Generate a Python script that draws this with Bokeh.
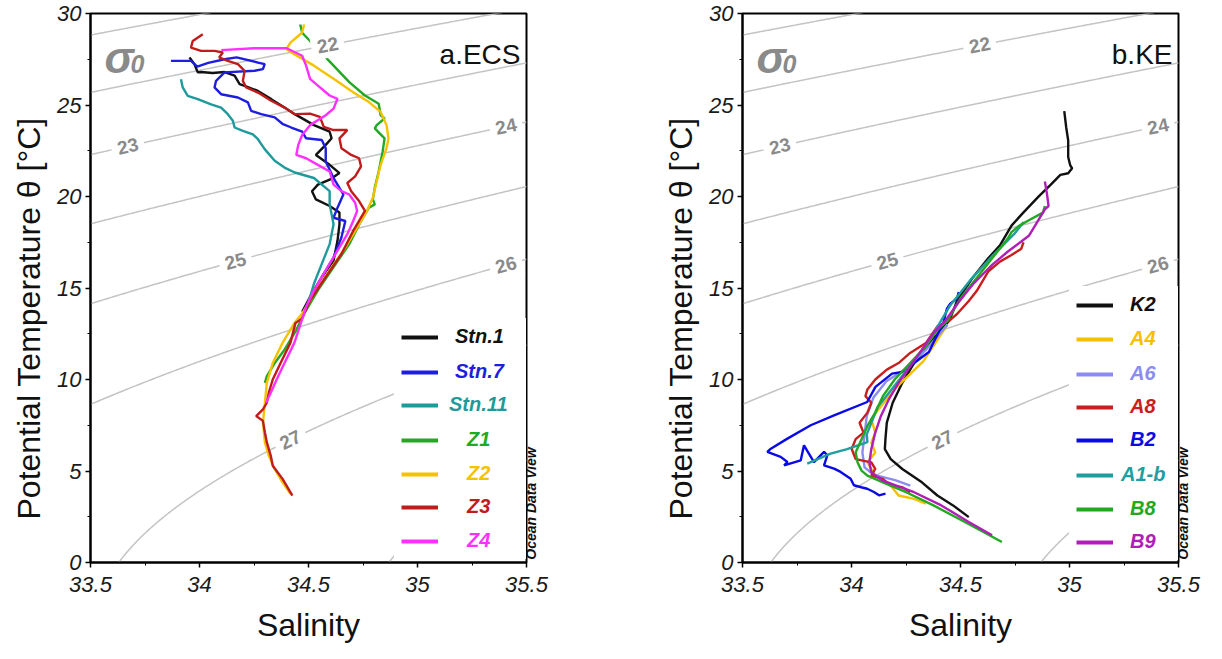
import numpy as np
from bokeh.plotting import figure
from bokeh.models import (Legend, LegendItem, Label, Range1d, SingleIntervalTicker, NumeralTickFormatter,
                          LinearAxis, FixedTicker, Title)
from bokeh.layouts import row
from bokeh.embed import file_html
from bokeh.resources import INLINE

# ---------------- data (salinity, potential temperature) ----------------
# Panel a: East China Sea
ECS_NAMES = ["Stn.1", "Stn.7", "Stn.11", "Z1", "Z2", "Z3", "Z4"]
ECS_COLORS = ["#111111", "#1e1ee0", "#1f9a9a", "#22a822", "#f6c200", "#c01c1c", "#ff30ff"]

STN1_S = [33.954, 33.977, 33.992, 34.007, 34.06, 34.115, 34.161, 34.184, 34.207, 34.268, 34.329, 34.39, 34.437,
          34.525, 34.561, 34.597, 34.606, 34.579, 34.534, 34.597, 34.642, 34.597, 34.543, 34.516, 34.534, 34.597,
          34.642, 34.642, 34.633, 34.615, 34.561, 34.507, 34.471]
STN1_T = [27.6, 27.23, 26.78, 26.8, 26.75, 26.8, 26.6, 26.14, 26.05, 25.77, 25.32, 24.86, 24.5,
          23.9, 23.72, 23.54, 23.18, 22.82, 22.27, 21.73, 21.28, 20.92, 20.65, 20.29, 19.84, 19.48,
          19.12, 18.48, 17.58, 16.5, 15.6, 14.51, 13.7]

STN7_S = [33.869, 33.961, 33.99, 34.04, 34.115, 34.17, 34.268, 34.299, 34.291, 34.253, 34.115, 34.076, 34.069,
          34.099, 34.176, 34.222, 34.237, 34.283, 34.345, 34.383, 34.421, 34.471, 34.489, 34.561, 34.579, 34.579,
          34.615, 34.66, 34.633, 34.615, 34.669, 34.651, 34.615, 34.561]
STN7_T = [27.41, 27.41, 27.1, 27.3, 27.5, 27.6, 27.32, 27.23, 26.96, 26.87, 26.78, 26.32, 25.96,
          25.59, 25.41, 25.14, 24.68, 24.5, 24.32, 23.95, 23.77, 23.54, 23.18, 23.09, 22.64, 21.91,
          21.01, 20.11, 19.39, 18.84, 18.66, 17.76, 16.68, 15.6]

STN11_S = [33.915, 33.923, 33.946, 33.992, 34.053, 34.099, 34.13, 34.153, 34.161, 34.199, 34.245, 34.268, 34.299,
           34.345, 34.39, 34.437, 34.525, 34.597, 34.597, 34.615, 34.597, 34.561, 34.525, 34.489]
STN11_T = [26.41, 25.96, 25.5, 25.32, 25.04, 24.86, 24.5, 24.14, 23.77, 23.59, 23.4, 23.13, 22.59,
           21.95, 21.58, 21.31, 21.01, 20.29, 19.57, 18.48, 17.4, 16.32, 15.23, 13.79]

Z1_S = [34.462, 34.471, 34.543, 34.615, 34.687, 34.759, 34.822, 34.831, 34.849, 34.813, 34.804, 34.849, 34.84,
        34.822, 34.804, 34.795, 34.804, 34.777, 34.741, 34.687, 34.615, 34.543, 34.48, 34.444, 34.39, 34.345,
        34.309, 34.3]
Z1_T = [29.4, 28.95, 28.05, 27.15, 26.25, 25.52, 25.07, 24.44, 24.26, 23.9, 23.72, 23.18, 22.45,
        21.37, 20.47, 19.84, 19.57, 19.39, 18.66, 17.4, 16.14, 14.87, 13.6, 12.7, 11.63, 10.9,
        10.18, 9.82]

Z2_S = [34.48, 34.47, 34.417, 34.399, 34.435, 34.525, 34.615, 34.705, 34.777, 34.831, 34.858, 34.867, 34.858,
        34.831, 34.813, 34.795, 34.768, 34.723, 34.669, 34.597, 34.525, 34.471, 34.435, 34.381, 34.336, 34.309,
        34.3, 34.291, 34.3, 34.318, 34.345, 34.381, 34.417]
Z2_T = [29.4, 28.95, 28.41, 28.05, 27.78, 27.15, 26.43, 25.7, 25.16, 24.62, 23.9, 23.18, 22.64,
        21.73, 20.83, 19.93, 19.21, 18.3, 17.22, 15.96, 14.69, 13.6, 13.08, 12.0, 10.9, 9.82,
        8.73, 7.64, 6.56, 5.83, 5.1, 4.38, 3.75]

Z3_S = [34.015, 33.969, 33.961, 34.007, 34.069, 34.107, 34.09, 34.13, 34.176, 34.207, 34.199, 34.214, 34.268,
        34.329, 34.39, 34.437, 34.507, 34.552, 34.57, 34.615, 34.678, 34.642, 34.651, 34.696, 34.732, 34.741,
        34.714, 34.678, 34.696, 34.732, 34.759, 34.705, 34.651, 34.579, 34.507, 34.471, 34.44, 34.417, 34.372,
        34.336, 34.318, 34.309, 34.291, 34.26, 34.291, 34.30, 34.309, 34.327, 34.336, 34.381, 34.426]
Z3_T = [28.87, 28.5, 28.14, 27.96, 27.96, 27.87, 27.6, 27.41, 27.23, 26.87, 26.32, 25.96, 25.68,
        25.23, 24.86, 24.5, 24.53, 24.35, 23.81, 23.63, 23.63, 23.18, 22.64, 22.27, 22.09, 21.64,
        21.1, 20.74, 20.29, 19.75, 19.21, 18.12, 16.86, 15.6, 14.33, 13.34, 13.08, 12.0, 10.9,
        10.0, 9.28, 8.73, 8.37, 8.0, 7.74, 7.1, 6.56, 5.83, 5.29, 4.57, 3.66]

Z4_S = [34.10, 34.25, 34.40, 34.471, 34.489, 34.507, 34.543, 34.597, 34.633, 34.615, 34.579, 34.507, 34.471,
        34.453, 34.444, 34.489, 34.543, 34.597, 34.615, 34.651, 34.687, 34.714, 34.723, 34.705, 34.678, 34.633,
        34.579, 34.525, 34.489, 34.471, 34.435, 34.39, 34.354, 34.327, 34.305]
Z4_T = [28.0, 28.1, 28.1, 27.69, 27.15, 26.43, 26.06, 25.52, 25.34, 24.8, 24.44, 23.9, 23.36,
        22.82, 22.27, 22.09, 21.73, 21.37, 20.65, 20.29, 20.11, 19.66, 19.21, 18.66, 17.94, 17.04,
        15.96, 14.87, 13.97, 13.3, 12.0, 10.9, 10.0, 9.28, 8.73]

ECS_S = [STN1_S, STN7_S, STN11_S, Z1_S, Z2_S, Z3_S, Z4_S]
ECS_T = [STN1_T, STN7_T, STN11_T, Z1_T, Z2_T, Z3_T, Z4_T]

# Panel b: Kuroshio Extension
KE_NAMES = ["K2", "A4", "A6", "A8", "B2", "A1-b", "B8", "B9"]
KE_COLORS = ["#111111", "#f5c000", "#8c8cf0", "#c81e1e", "#0a0ae6", "#1e9e9e", "#22a822", "#b01eb8"]

K2_S = [34.976, 34.985, 34.994, 34.994, 35.003, 35.012, 34.994, 34.958, 34.913, 34.86, 34.788, 34.734, 34.681,
        34.627, 34.555, 34.484, 34.449, 34.359, 34.287, 34.233, 34.189, 34.162, 34.156, 34.153, 34.18, 34.233,
        34.323, 34.394, 34.466, 34.538]
K2_T = [24.67, 23.77, 23.06, 22.16, 21.72, 21.54, 21.27, 21.18, 20.64, 20.02, 19.12, 18.41, 17.33,
        16.62, 15.55, 14.29, 13.22, 11.99, 10.9, 9.82, 8.73, 7.64, 6.8, 6.2, 5.65, 5.11,
        4.38, 3.66, 3.12, 2.48]

A4_S = [34.44, 34.33, 34.2, 34.12, 34.091, 34.109, 34.091, 34.109, 34.073, 34.109, 34.18, 34.216, 34.287, 34.341]
A4_T = [13.0, 11.0, 9.5, 8.3, 7.83, 7.1, 6.56, 6.01, 5.47, 4.75, 4.2, 3.66, 3.48, 3.21]

A6_S = [34.44, 34.34, 34.24, 34.16, 34.1, 34.07, 34.06, 34.05, 34.06, 34.1, 34.2, 34.27]
A6_T = [13.0, 11.6, 10.5, 9.9, 9.0, 8.0, 7.0, 6.0, 5.2, 4.8, 4.5, 4.2]

A8_S = [34.789, 34.779, 34.734, 34.681, 34.627, 34.574, 34.538, 34.484, 34.449, 34.394, 34.341, 34.269, 34.216,
        34.162, 34.109, 34.073, 34.064, 34.091, 34.073, 34.037, 34.055, 34.019, 34.001, 34.019, 34.091, 34.109,
        34.091, 34.144, 34.18, 34.233, 34.269]
A8_T = [17.5, 17.15, 16.8, 16.44, 15.9, 14.83, 14.29, 13.58, 13.22, 12.9, 11.99, 11.45, 10.9,
        10.54, 10.0, 9.46, 9.09, 8.73, 8.19, 7.64, 7.1, 6.74, 6.2, 5.65, 5.47, 5.11,
        4.75, 4.57, 4.2, 4.11, 3.84]

B2_S = [34.492, 34.484, 34.453, 34.438, 34.43, 34.423, 34.37, 34.355, 34.232, 34.186, 34.11, 34.072, 33.92,
        33.813, 33.706, 33.63, 33.614, 33.675, 33.706, 33.691, 33.767, 33.782, 33.828, 33.874, 33.889, 33.874,
        33.92, 33.95, 33.996, 34.011, 34.049, 34.072, 34.103, 34.126, 34.156]
B2_T = [14.78, 14.42, 14.14, 13.87, 13.51, 13.14, 11.87, 11.5, 10.41, 10.32, 9.6, 8.77, 8.04,
        7.5, 6.77, 6.22, 6.04, 5.77, 5.49, 5.31, 5.58, 6.4, 5.49, 6.04, 5.86, 5.31,
        5.13, 4.95, 4.58, 4.22, 4.1, 4.03, 3.85, 3.67, 3.76]

A1B_S = [34.79, 34.75, 34.65, 34.55, 34.45, 34.35, 34.22, 34.12, 34.07, 34.073, 33.98, 33.904, 33.797]
A1B_T = [18.6, 18.0, 16.8, 15.5, 14.0, 12.0, 10.0, 8.5, 7.0, 6.58, 6.2, 5.95, 5.4]

B8_S = [34.887, 34.878, 34.824, 34.77, 34.734, 34.716, 34.645, 34.574, 34.502, 34.44, 34.394, 34.341, 34.269,
        34.198, 34.144, 34.109, 34.073, 34.046, 34.019, 34.028, 34.046, 34.073, 34.144, 34.251, 34.376, 34.52,
        34.69]
B8_T = [19.48, 19.12, 18.77, 18.41, 18.05, 17.69, 16.62, 15.55, 14.47, 13.22, 12.72, 11.81, 10.9,
        10.0, 9.09, 8.19, 7.46, 6.74, 6.01, 5.47, 5.02, 4.75, 4.38, 3.84, 3.12, 2.21,
        1.12]

B9_S = [34.887, 34.896, 34.904, 34.887, 34.815, 34.716, 34.645, 34.556, 34.484, 34.431, 34.376, 34.323, 34.269,
        34.216, 34.171, 34.135, 34.109, 34.091, 34.082, 34.091, 34.144, 34.287, 34.412, 34.538, 34.645]
B9_T = [20.82, 20.2, 19.48, 19.3, 17.87, 16.98, 16.26, 15.19, 14.11, 13.22, 12.54, 11.63, 10.72,
        9.82, 8.91, 8.01, 7.1, 6.2, 5.47, 4.93, 4.47, 3.84, 3.12, 2.21, 1.49]

KE_S = [K2_S, A4_S, A6_S, A8_S, B2_S, A1B_S, B8_S, B9_S]
KE_T = [K2_T, A4_T, A6_T, A8_T, B2_T, A1B_T, B8_T, B9_T]

# isopycnal (sigma-0) contours and their labels
SIGMA_LEVELS = [21, 22, 23, 24, 25, 26, 27, 28]
CLABEL_LEVELS = [22, 23, 24, 25, 26, 27]
CLABEL_S = [34.588, 33.671, 35.406, 34.165, 35.406, 34.417]

X_START, X_END = 33.5, 35.5
Y_START, Y_END = 0, 30
PANEL_TITLES = ["a.ECS", "b.KE"]
X_TITLE = "Salinity"
Y_TITLE = "Potential Temperature θ [°C]"
ODV_TEXT = "Ocean Data View"


def sigma0(S, T):
    """UNESCO EOS-80 density anomaly at the sea surface."""
    rw = (999.842594 + 6.793952e-2 * T - 9.095290e-3 * T ** 2 + 1.001685e-4 * T ** 3
          - 1.120083e-6 * T ** 4 + 6.536332e-9 * T ** 5)
    A = 8.24493e-1 - 4.0899e-3 * T + 7.6438e-5 * T ** 2 - 8.2467e-7 * T ** 3 + 5.3875e-9 * T ** 4
    B = -5.72466e-3 + 1.0227e-4 * T - 1.6546e-6 * T ** 2
    return rw + A * S + B * S ** 1.5 + 4.8314e-4 * S ** 2 - 1000.0


def temp_on_isopycnal(S, level):
    lo, hi = -5.0, 40.0
    for _ in range(60):
        mid = 0.5 * (lo + hi)
        if sigma0(S, mid) > level:
            lo = mid
        else:
            hi = mid
    return 0.5 * (lo + hi)


GRID_S = np.linspace(X_START, X_END, 241)
GRID_T = np.linspace(-1, 31, 321)
SS, TT = np.meshgrid(GRID_S, GRID_T)
SIG = sigma0(SS, TT)

FONT = "Liberation Sans"
FRAME_W, FRAME_H = 436, 549
GRAY_TXT = "#8a8a8a"


def text_width(s, size):
    w = {"S": .667, "t": .333, "n": .611, ".": .278, "1": .556, "7": .556, "Z": .611, "2": .556, "3": .556,
         "4": .556, "K": .722, "A": .722, "6": .556, "8": .556, "B": .722, "-": .333, "b": .611, "9": .556}
    return sum(w.get(c, .6) for c in s) * size


def make_panel(title, names, colors, S_list, T_list, right_border, leg_glyph_x, leg_text_cx,
               leg_centers):
    p = figure(frame_width=FRAME_W, frame_height=FRAME_H, x_range=Range1d(X_START, X_END),
               y_range=Range1d(Y_START, Y_END), output_backend="svg", toolbar_location=None,
               min_border_left=90, min_border_right=right_border, min_border_top=13, min_border_bottom=81)
    p.xgrid.visible = False
    p.ygrid.visible = False
    p.outline_line_color = "black"
    p.outline_line_width = 2
    p.outline_line_alpha = 1
    p.background_fill_color = "white"
    p.border_fill_color = "white"

    p.xaxis.ticker = SingleIntervalTicker(interval=0.5, num_minor_ticks=2)
    p.yaxis.ticker = SingleIntervalTicker(interval=5, num_minor_ticks=2)
    p.xaxis.formatter = NumeralTickFormatter(format="0.[0]")
    p.yaxis.formatter = NumeralTickFormatter(format="0")
    for ax in (p.xaxis[0], p.yaxis[0]):
        ax.major_label_text_font = FONT
        ax.major_label_text_font_style = "italic"
        ax.major_label_text_font_size = "22px"
        ax.major_label_text_color = "#1a1a1a"
        ax.axis_label_text_font = FONT
        ax.axis_label_text_font_style = "normal"
        ax.axis_label_text_font_size = "32px"
        ax.axis_label_text_color = "#111111"
        ax.axis_line_width = 2
        ax.major_tick_in = 0
        ax.major_tick_out = 5
        ax.minor_tick_in = 0
        ax.minor_tick_out = 3
        ax.major_tick_line_width = 1.5
        ax.minor_tick_line_width = 1
    p.xaxis.axis_label = X_TITLE
    p.xaxis.major_label_standoff = 9
    p.xaxis.axis_label_standoff = 12
    p.yaxis.major_label_standoff = 4

    # y title: sits lower than the frame centre, as in the original
    p.add_layout(Title(text=Y_TITLE, align="left", offset=43, standoff=15, text_font=FONT,
                       text_font_size="32px", text_font_style="normal", text_color="#111111"), "left")

    # "Ocean Data View" credit, written bottom-to-top just right of the frame
    odv_start = 0.15
    odv = LinearAxis(ticker=FixedTicker(ticks=[odv_start]), major_label_overrides={odv_start: ODV_TEXT},
                     major_label_orientation=np.pi / 2, axis_line_alpha=0, major_tick_line_alpha=0,
                     minor_tick_line_alpha=0, major_tick_out=0, major_tick_in=0, major_label_standoff=5,
                     major_label_text_font=FONT, major_label_text_font_style="bold italic",
                     major_label_text_font_size="14px", major_label_text_color="#111111")
    p.add_layout(odv, "right")

    # isopycnals
    p.contour(x=GRID_S, y=GRID_T, z=SIG, levels=SIGMA_LEVELS, line_color="#c4c4c4", line_width=1.5)

    # profiles
    for S, T, c in zip(S_list, T_list, colors):
        p.line(S, T, line_color=c, line_width=2.4)

    # contour labels (placed on the isopycnal, rotated along it)
    kx = (FRAME_H / (Y_END - Y_START)) / (FRAME_W / (X_END - X_START))
    for lev, s in zip(CLABEL_LEVELS, CLABEL_S):
        t = temp_on_isopycnal(s, lev)
        h = 1e-3
        dS = (sigma0(s + h, t) - sigma0(s - h, t)) / (2 * h)
        dT = (sigma0(s, t + h) - sigma0(s, t - h)) / (2 * h)
        ang = np.arctan(-dS / dT * kx)
        p.add_layout(Label(x=s, y=t, text=str(lev), angle=float(ang), text_align="center",
                           text_baseline="middle", text_font=FONT, text_font_style="bold",
                           text_font_size="19px", text_color=GRAY_TXT, background_fill_color="white",
                           background_fill_alpha=1.0, padding=6))

    # sigma_0 symbol and panel title
    p.add_layout(Label(x=X_START, y=Y_END, x_offset=14, y_offset=-44, text="σ", text_font=FONT,
                       text_font_style="bold italic", text_font_size="44px", text_color=GRAY_TXT,
                       text_baseline="alphabetic"))
    p.add_layout(Label(x=X_START, y=Y_END, x_offset=40, y_offset=-50, text="0", text_font=FONT,
                       text_font_style="bold italic", text_font_size="25px", text_color=GRAY_TXT,
                       text_baseline="alphabetic"))
    p.add_layout(Label(x=X_END, y=Y_END, x_offset=-6, y_offset=-41, text=title, text_font=FONT,
                       text_font_style="normal", text_font_size="28px", text_color="#111111",
                       text_align="right", text_baseline="alphabetic"))

    # legend: one single-item legend per entry so each label keeps its colour
    pad = 7
    glyph_w = 37
    total_inner = FRAME_W - (leg_glyph_x - pad) - 2 * pad - glyph_w
    half = leg_text_cx - (leg_glyph_x + glyph_w)
    for name, c, yc in zip(names, colors, leg_centers):
        sample = p.line(x=[np.nan, np.nan], y=[np.nan, np.nan], line_color=c, line_width=4)
        tw = text_width(name, 20)
        so = max(2, half - tw / 2)
        lw = max(tw, total_inner - so)
        leg = Legend(items=[LegendItem(label=name, renderers=[sample])],
                     location=(leg_glyph_x - pad, FRAME_H - yc - 18), orientation="vertical",
                     padding=pad, margin=0, spacing=0, glyph_width=glyph_w, glyph_height=20,
                     label_height=20, label_standoff=int(round(so)), label_width=int(round(lw)),
                     label_text_font=FONT, label_text_font_style="bold italic",
                     label_text_font_size="20px", label_text_color=c,
                     background_fill_color="white", background_fill_alpha=1.0, border_line_alpha=0)
        p.add_layout(leg)
    return p


# legend geometry in frame pixels (x from frame left, y from frame top)
p1 = make_panel(PANEL_TITLES[0], ECS_NAMES, ECS_COLORS, ECS_S, ECS_T, right_border=126,
                leg_glyph_x=311, leg_text_cx=389,
                leg_centers=[324, 359, 392, 427, 461, 494, 528])
p2 = make_panel(PANEL_TITLES[1], KE_NAMES, KE_COLORS, KE_S, KE_T, right_border=26,
                leg_glyph_x=334, leg_text_cx=401,
                leg_centers=[292, 326, 361, 394, 427, 462, 496, 529])

layout = row(p1, p2)
open("out.html", "w").write(file_html(layout, INLINE))
